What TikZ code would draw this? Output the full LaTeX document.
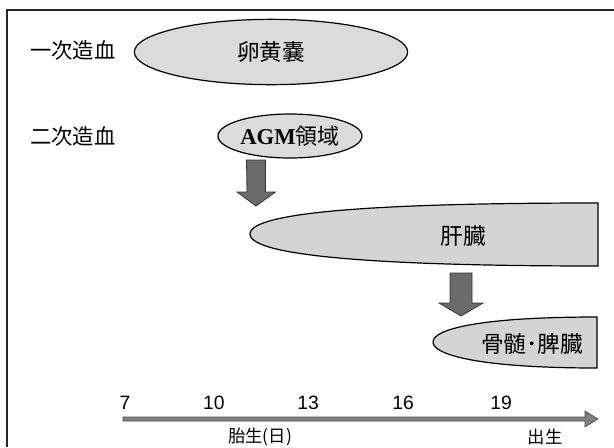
\documentclass[tikz,border=0pt]{standalone}
\usepackage{fontspec}
\newfontfamily\jp{Noto Sans CJK JP}
\newfontfamily\tms{Liberation Serif}
\newfontfamily\arl{Liberation Sans}
\usetikzlibrary{shapes.geometric}
\definecolor{blobfill}{gray}{0.86}
\definecolor{blobfilldark}{gray}{0.83}
\definecolor{arrfill}{gray}{0.42}
\tikzset{
  lbl/.style={inner sep=0pt, font=\jp\fontsize{16}{18}\selectfont},
  blob/.style={ellipse, draw=black, line width=0.9pt, fill=blobfill, inner sep=0pt},
  slab/.style={draw=black, line width=0.9pt, fill=blobfilldark},
  blockarr/.style={draw=black!80, line width=0.6pt, fill=arrfill},
  tick/.style={inner sep=0pt, font=\arl\fontsize{14.5}{16}\selectfont},
  axlbl/.style={inner sep=0pt, font=\jp\fontsize{13}{15}\selectfont},
  frame/.style={draw=black!85, line width=0.8pt}
}
\begin{document}
\begin{tikzpicture}[x=0.75pt,y=-0.75pt]
\useasboundingbox (0,0) rectangle (614,447);
% frame
\coordinate (fb) at (7,447);
\coordinate (fc) at (7,10);
\coordinate (fr) at (614,10);
\draw[frame] (fb) -- (fc) -- (fr);
% row labels
\node[lbl] (yi) at (73,50) {一次造血};
\node[lbl] (er) at (73,136) {二次造血};
% yolk sac
\node[blob, minimum width=205pt, minimum height=49pt, font=\jp\fontsize{17}{19}\selectfont] (ys) at (271,52) {卵黄嚢};
% AGM
\node[blob, minimum width=108pt, minimum height=33pt] (agm) at (290,136)
  {{\tms\bfseries\fontsize{17}{19}\selectfont AGM}{\jp\fontsize{16.5}{19}\selectfont 領域}};
% arrow 1
\coordinate (a1) at (256,160);
\draw[blockarr] (a1) ++(-9.5,0) -- ++(19,0) -- ++(0,32) -- ++(10,0) -- (256,206) -- (237,192) -- ++(10,0) -- cycle;
% liver
\coordinate (lv1) at (598,203);
\coordinate (lv2) at (598,266);
\draw[slab] (lv1) .. controls (390,203) and (250,211) .. (250,234) .. controls (250,257) and (390,266) .. (lv2) -- cycle;
\node[lbl, font=\jp\fontsize{17}{19}\selectfont] (liver) at (463,236) {肝臓};
% arrow 2
\coordinate (a2) at (461,273);
\draw[blockarr] (a2) ++(-11,0) -- ++(22,0) -- ++(0,30) -- ++(11,0) -- (461,316) -- (439,303) -- ++(11,0) -- cycle;
% bone marrow / spleen
\coordinate (bm1) at (597,317);
\coordinate (bm2) at (597,368);
\draw[slab] (bm1) .. controls (480,317) and (433,329) .. (433,342) .. controls (433,355) and (480,368) .. (bm2) -- cycle;
\node[lbl, font=\jp\fontsize{17}{19}\selectfont] (bm) at (532,344) {骨髄･脾臓};
% axis
\coordinate (ax0) at (123,419);
\coordinate (ax1) at (598,419);
\draw[draw=black!70, line width=0.5pt, fill=gray] (123,417) -- (585,417) -- (585,411) -- (ax1) -- (585,427) -- (585,421) -- (123,421) -- cycle;
\node[tick] (t7) at (125,403) {7};
\node[tick] (t10) at (214,403) {10};
\node[tick] (t13) at (308,403) {13};
\node[tick] (t16) at (403,403) {16};
\node[tick] (t19) at (501,403) {19};
\node[axlbl] (tai) at (260,437) {胎生(日)};
\node[axlbl] (shu) at (545,437) {出生};
\end{tikzpicture}
\end{document}
